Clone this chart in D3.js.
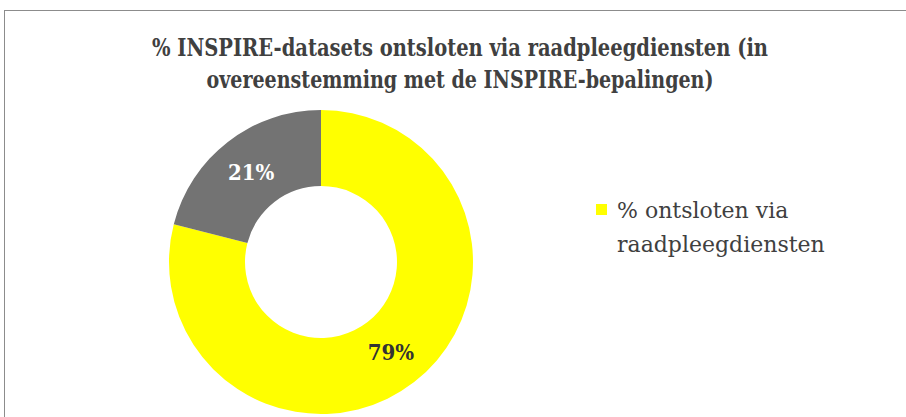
<!DOCTYPE html>
<html>
<head>
<meta charset="utf-8">
<script src="https://cdn.jsdelivr.net/npm/d3@7"></script>
<style>
  html, body { margin: 0; padding: 0; background: #fff; }
  svg { display: block; }
</style>
</head>
<body>
<svg id="chart" width="906" height="417"></svg>
<script>
// Donut: aandeel INSPIRE-datasets ontsloten via raadpleegdiensten
const TITLE_LINES = [
  "% INSPIRE-datasets ontsloten via raadpleegdiensten (in",
  "overeenstemming met de INSPIRE-bepalingen)",
];
const SLICE_NAMES = ["% ontsloten via raadpleegdiensten", "niet ontsloten"];
const SLICE_VALUES = [79, 21];
const SLICE_COLORS = ["#ffff00", "#737373"];
const LABEL_COLORS = ["#333333", "#ffffff"];
const LEGEND_LINES = ["% ontsloten via", "raadpleegdiensten"];

const svg = d3.select("#chart");

// kader van de grafiek (loopt rechts en onder buiten beeld)
svg.append("rect")
  .attr("x", 4.5).attr("y", 10.5)
  .attr("width", 1000).attr("height", 1000)
  .attr("fill", "#fff").attr("stroke", "#8c8c8c").attr("stroke-width", 1);

// titel
const title = svg.append("text")
  .attr("text-anchor", "middle")
  .style("font-family", "'DejaVu Serif Condensed', 'DejaVu Serif', serif")
  .style("font-weight", "bold")
  .style("font-size", "24px")
  .style("fill", "#404040");
const titleWidths = [616, 507];
TITLE_LINES.forEach((t, i) => {
  title.append("tspan")
    .attr("x", 460).attr("y", 56 + i * 32)
    .attr("textLength", titleWidths[i])
    .attr("lengthAdjust", "spacingAndGlyphs")
    .text(t);
});

// donut
const cx = 321, cy = 262, rOuter = 152, rInner = 76;
const pie = d3.pie().sort(null).value((d) => d.value);
const arc = d3.arc().innerRadius(rInner).outerRadius(rOuter);
const data = SLICE_VALUES.map((v, i) => ({ name: SLICE_NAMES[i], value: v, i }));

const g = svg.append("g").attr("transform", `translate(${cx},${cy})`);
g.selectAll("path").data(pie(data)).join("path")
  .attr("d", arc)
  .attr("fill", (d) => SLICE_COLORS[d.data.i]);

const total = d3.sum(SLICE_VALUES);
g.selectAll("text.lbl").data(pie(data)).join("text")
  .attr("class", "lbl")
  .attr("transform", (d) => `translate(${arc.centroid(d)})`)
  .attr("text-anchor", "middle")
  .attr("dy", "0.35em")
  .style("font-family", "'DejaVu Serif Condensed', 'DejaVu Serif', serif")
  .style("font-weight", "bold")
  .style("font-size", "22px")
  .style("fill", (d) => LABEL_COLORS[d.data.i])
  .text((d) => `${Math.round(d.data.value / total * 100)}%`);

// legenda (alleen de gele reeks)
const lg = svg.append("g").attr("transform", "translate(596,204)");
lg.append("rect").attr("width", 11).attr("height", 11).attr("fill", SLICE_COLORS[0]);
const lt = lg.append("text")
  .style("font-family", "'DejaVu Serif', serif")
  .style("font-size", "22px")
  .style("fill", "#404040");
LEGEND_LINES.forEach((t, i) => {
  lt.append("tspan").attr("x", 21).attr("y", 14 + i * 34).text(t);
});
</script>
</body>
</html>
